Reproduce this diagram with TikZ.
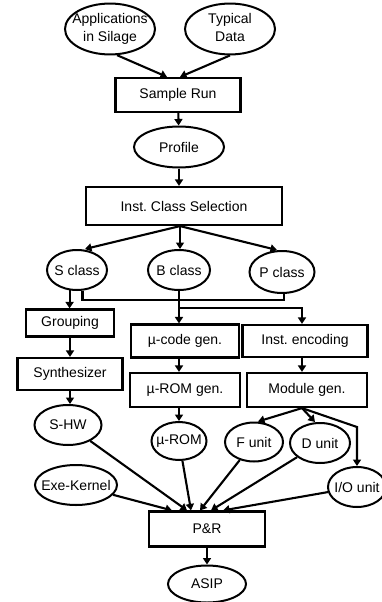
\documentclass[tikz,border=0pt]{standalone}
\usepackage{fontspec}
\setmainfont{Liberation Sans}
\usetikzlibrary{arrows.meta,shapes.geometric}
\newcommand{\ovtext}[1]{\makebox[0pt]{#1}}
\newcommand{\twolines}[2]{\makebox[0pt]{\begin{tabular}{@{}c@{}}#1\\#2\end{tabular}}}
\frenchspacing

\begin{document}
\begin{tikzpicture}[
    x=1pt,y=-1pt,
    every node/.style={font=\fontsize{14}{18}\selectfont},
    box/.style={rectangle,draw,line width=2.2pt,inner sep=0pt},
    oval/.style={ellipse,draw,line width=2pt,inner sep=0pt},
    arrow/.style={-{Triangle[length=6.5pt,width=8pt]},line width=2.1pt},
    line/.style={line width=2.1pt}
  ]
    \useasboundingbox (0,0) rectangle (381,602);

    \node[oval,minimum width=90pt,minimum height=47pt] (apps) at (110,29) {\twolines{Applications}{in Silage}};
    \node[oval,minimum width=90pt,minimum height=47pt] (typical) at (230,29) {\twolines{Typical}{Data}};
    \node[box,minimum width=125pt,minimum height=34pt] (sample) at (178,95) {Sample Run};
    \node[oval,minimum width=90pt,minimum height=41pt] (profile) at (179,147) {\ovtext{Profile}};
    \node[box,minimum width=196pt,minimum height=38pt] (inst) at (184,206) {Inst. Class Selection};
    \node[oval,minimum width=60pt,minimum height=40pt] (sclass) at (77,270) {\ovtext{S class}};
    \node[oval,minimum width=62pt,minimum height=40pt] (bclass) at (179,270) {\ovtext{B class}};
    \node[oval,minimum width=65pt,minimum height=42pt] (pclass) at (282,272) {\ovtext{P class}};
    \node[box,minimum width=88pt,minimum height=27pt] (grouping) at (70,323) {Grouping};
    \node[box,minimum width=105pt,minimum height=32pt] (synth) at (70,374) {Synthesizer};
    \node[box,minimum width=108pt,minimum height=33pt] (mucode) at (185,341) {µ-code gen.};
    \node[box,minimum width=125pt,minimum height=32pt] (instenc) at (305,341) {Inst. encoding};
    \node[box,minimum width=110pt,minimum height=34pt] (muromgen) at (185,390) {µ-ROM gen.};
    \node[box,minimum width=120pt,minimum height=34pt] (modgen) at (307,390) {Module gen.};
    \node[oval,minimum width=67pt,minimum height=40pt] (shw) at (68,425) {\ovtext{S-HW}};
    \node[oval,minimum width=55pt,minimum height=38pt] (murom) at (179,441) {\ovtext{µ-ROM}};
    \node[oval,minimum width=58pt,minimum height=39pt] (funit) at (254,442) {\ovtext{F unit}};
    \node[oval,minimum width=60pt,minimum height=40pt] (dunit) at (320,443) {\ovtext{D unit}};
    \node[oval,minimum width=58pt,minimum height=40pt] (iounit) at (357,487) {\ovtext{I/O unit}};
    \node[oval,minimum width=82pt,minimum height=40pt] (exe) at (76,485) {\ovtext{Exe-Kernel}};
    \node[box,minimum width=116pt,minimum height=35pt] (pr) at (207,529) {P\&R};
    \node[oval,minimum width=78pt,minimum height=37pt] (asip) at (207,584) {\ovtext{ASIP}};

    \coordinate (fan) at ([xshift=-4pt]inst.south);
    \coordinate (bus) at (0,300);
    \coordinate (tap) at (0,308);
    \coordinate (split) at ([xshift=-5pt]modgen.south);
    \coordinate (iobend) at (357,427);

    \draw[arrow] (apps.-75) -- ([xshift=-11pt]sample.north);
    \draw[arrow] (typical.south) -- ([xshift=2pt]sample.north);
    \draw[arrow] (sample) -- (profile);
    \draw[arrow] (profile.south) -- (profile.south |- inst.north);
    \draw[arrow] (fan) -- ([xshift=8pt]sclass.north);
    \draw[arrow] (fan) -- (fan |- bclass.north);
    \draw[arrow] (fan) -- ([xshift=-5pt]pclass.north);
    \draw[line] (sclass.-75) -- (sclass.-75 |- bus) -| (pclass.-85);
    \draw[arrow] (sclass.-110) -- (sclass.-110 |- grouping.north);
    \draw[arrow] (bclass.south) -- (bclass.south |- mucode.north);
    \draw[arrow] (bclass.south |- tap) -| ([xshift=-3pt]instenc.north);
    \draw[arrow] (grouping.south) -- (grouping.south |- synth.north);
    \draw[arrow] (synth.south) -- (synth.south |- shw.north);
    \draw[arrow] (mucode.south -| murom) -- (muromgen.north -| murom);
    \draw[arrow] (muromgen.south -| murom) -- (murom);
    \draw[arrow] ([xshift=-3pt]instenc.south) -- ([xshift=-3pt]instenc.south |- modgen.north);
    \draw[arrow] (split) -- ([xshift=4pt]funit.north);
    \draw[arrow] (split) -- ([xshift=-5pt]dunit.north);
    \draw[arrow] (split) -- (iobend) -- (iounit);
    \draw[arrow] (exe) -- ([xshift=-35pt]pr.north);
    \draw[arrow] (shw) -- ([xshift=-20pt]pr.north);
    \draw[arrow] (murom) -- ([xshift=-16pt]pr.north);
    \draw[arrow] (funit) -- ([xshift=-7pt]pr.north);
    \draw[arrow] (dunit) -- ([xshift=4pt]pr.north);
    \draw[arrow] (iounit) -- ([xshift=16pt]pr.north);
    \draw[arrow] (pr) -- (asip);
  \end{tikzpicture}
\end{document}
